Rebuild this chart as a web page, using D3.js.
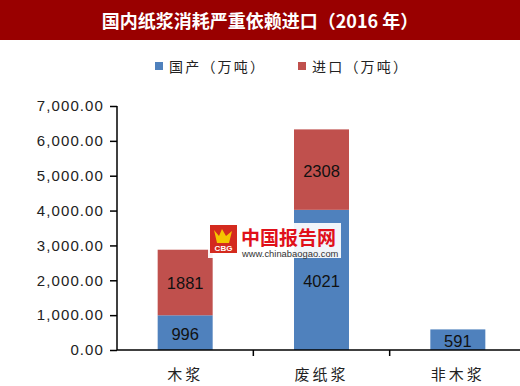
<!DOCTYPE html>
<html>
<head>
<meta charset="utf-8">
<script src="https://cdn.jsdelivr.net/npm/d3@7"></script>
<style>
  body { margin: 0; background: #fff; }
  svg { display: block; }
</style>
</head>
<body>
<div id="chart"></div>
<script>
// chart data
const categories = ["木浆", "废纸浆", "非木浆"];
const domestic = [996, 4021, 591];
const imported = [1881, 2308, 0];
const seriesNames = ["国产（万吨）", "进口（万吨）"];
const yTicks = [0, 1000, 2000, 3000, 4000, 5000, 6000, 7000];

const width = 520;
const height = 386;
const colors = ["#4f81bd", "#c0504d"];
const cjk = "'Noto Sans CJK SC', 'Noto Sans', sans-serif";
const latin = "'Liberation Sans', Arial, sans-serif";

const svg = d3
  .select("#chart")
  .append("svg")
  .attr("width", width)
  .attr("height", height);

// title bar
svg.append("rect")
  .attr("x", 0).attr("y", 0)
  .attr("width", width).attr("height", 40)
  .attr("fill", "#990000");

svg.append("text")
  .attr("x", 260).attr("y", 20)
  .attr("text-anchor", "middle")
  .attr("dominant-baseline", "central")
  .style("font-family", cjk)
  .style("font-weight", "bold")
  .style("font-size", "18px")
  .attr("fill", "#fff")
  .text("国内纸浆消耗严重依赖进口（2016 年）");

// legend
const legendX = [155, 298];
seriesNames.forEach((name, i) => {
  svg.append("rect")
    .attr("x", legendX[i]).attr("y", 62)
    .attr("width", 8).attr("height", 8)
    .attr("fill", colors[i]);
  svg.append("text")
    .attr("x", legendX[i] + 14).attr("y", 66)
    .attr("dominant-baseline", "central")
    .style("font-family", cjk)
    .style("font-size", "14px")
    .style("letter-spacing", "2.2px")
    .attr("fill", "#222")
    .text(name);
});

// scales
const x = d3.scaleBand().domain(categories).range([117, 526]).padding(0);
const y = d3.scaleLinear().domain([0, 7000]).range([350, 106]);
const barW = 55;

// stacked data
const stack = categories.map((c, i) => [
  { cat: c, y0: 0, y1: domestic[i], v: domestic[i], s: 0 },
  { cat: c, y0: domestic[i], y1: domestic[i] + imported[i], v: imported[i], s: 1 },
]).flat().filter((d) => d.v > 0);

svg.selectAll("rect.bar")
  .data(stack)
  .enter()
  .append("rect")
  .attr("class", "bar")
  .attr("x", (d) => x(d.cat) + x.bandwidth() / 2 - barW / 2)
  .attr("y", (d) => y(d.y1))
  .attr("width", barW)
  .attr("height", (d) => y(d.y0) - y(d.y1))
  .attr("fill", (d) => colors[d.s]);

// watermark
const wm = svg.append("g");
wm.append("rect")
  .attr("x", 208).attr("y", 223)
  .attr("width", 133).attr("height", 35)
  .attr("fill", "#fff").attr("opacity", 0.92);
wm.append("rect")
  .attr("x", 210).attr("y", 225)
  .attr("width", 27).attr("height", 28)
  .attr("fill", "#d42a1e");
wm.append("path")
  .attr("d", "M214,230 L219,236 L222,229 L226,236 L232,231 L229,243 L217,243 Z")
  .attr("fill", "#f5c400");
wm.append("text")
  .attr("x", 223.5).attr("y", 251)
  .attr("text-anchor", "middle")
  .style("font-family", latin)
  .style("font-weight", "bold")
  .style("font-size", "8px")
  .attr("fill", "#fff")
  .text("CBG");
wm.append("text")
  .attr("x", 241).attr("y", 236)
  .attr("dominant-baseline", "central")
  .style("font-family", cjk)
  .style("font-weight", "bold")
  .style("font-size", "19px")
  .attr("fill", "#e0101a")
  .text("中国报告网");
wm.append("text")
  .attr("x", 242).attr("y", 257)
  .style("font-family", latin)
  .style("font-size", "9.4px")
  .attr("fill", "#333")
  .text("www.chinabaogao.com");

// value labels
svg.selectAll("text.val")
  .data(stack)
  .enter()
  .append("text")
  .attr("class", "val")
  .attr("x", (d) => x(d.cat) + x.bandwidth() / 2)
  .attr("y", (d) => (y(d.y0) + y(d.y1)) / 2 + 1)
  .attr("text-anchor", "middle")
  .attr("dominant-baseline", "central")
  .style("font-family", latin)
  .style("font-size", "16.5px")
  .attr("fill", "#111")
  .text((d) => d.v);

// y-axis
const yAxis = d3.axisLeft(y)
  .tickValues(yTicks)
  .tickSize(7)
  .tickPadding(6)
  .tickFormat(d3.format(",.2f"));

const gy = svg.append("g")
  .attr("transform", "translate(117,0)")
  .call(yAxis);
gy.select(".domain").attr("stroke", "#000").attr("stroke-width", 1.5)
  .attr("d", "M0,106V350");
gy.selectAll(".tick line").attr("stroke", "#000").attr("stroke-width", 1.5);
gy.selectAll(".tick text")
  .style("font-family", latin)
  .style("font-size", "15px")
  .style("letter-spacing", "1.1px")
  .attr("fill", "#222");

// x-axis
const gx = svg.append("g")
  .attr("transform", "translate(0,350)");
gx.append("line")
  .attr("x1", 117).attr("x2", width)
  .attr("stroke", "#000").attr("stroke-width", 1.5);
gx.selectAll("line.tk")
  .data(categories.slice(1))
  .enter()
  .append("line")
  .attr("class", "tk")
  .attr("x1", (d) => x(d)).attr("x2", (d) => x(d))
  .attr("y1", 0).attr("y2", 6)
  .attr("stroke", "#000").attr("stroke-width", 1.5);
gx.selectAll("text")
  .data(categories)
  .enter()
  .append("text")
  .attr("x", (d) => x(d) + x.bandwidth() / 2)
  .attr("y", 23)
  .attr("text-anchor", "middle")
  .attr("dominant-baseline", "central")
  .style("font-family", cjk)
  .style("font-size", "15px")
  .style("letter-spacing", "3px")
  .attr("fill", "#222")
  .text((d) => d);
</script>
</body>
</html>
